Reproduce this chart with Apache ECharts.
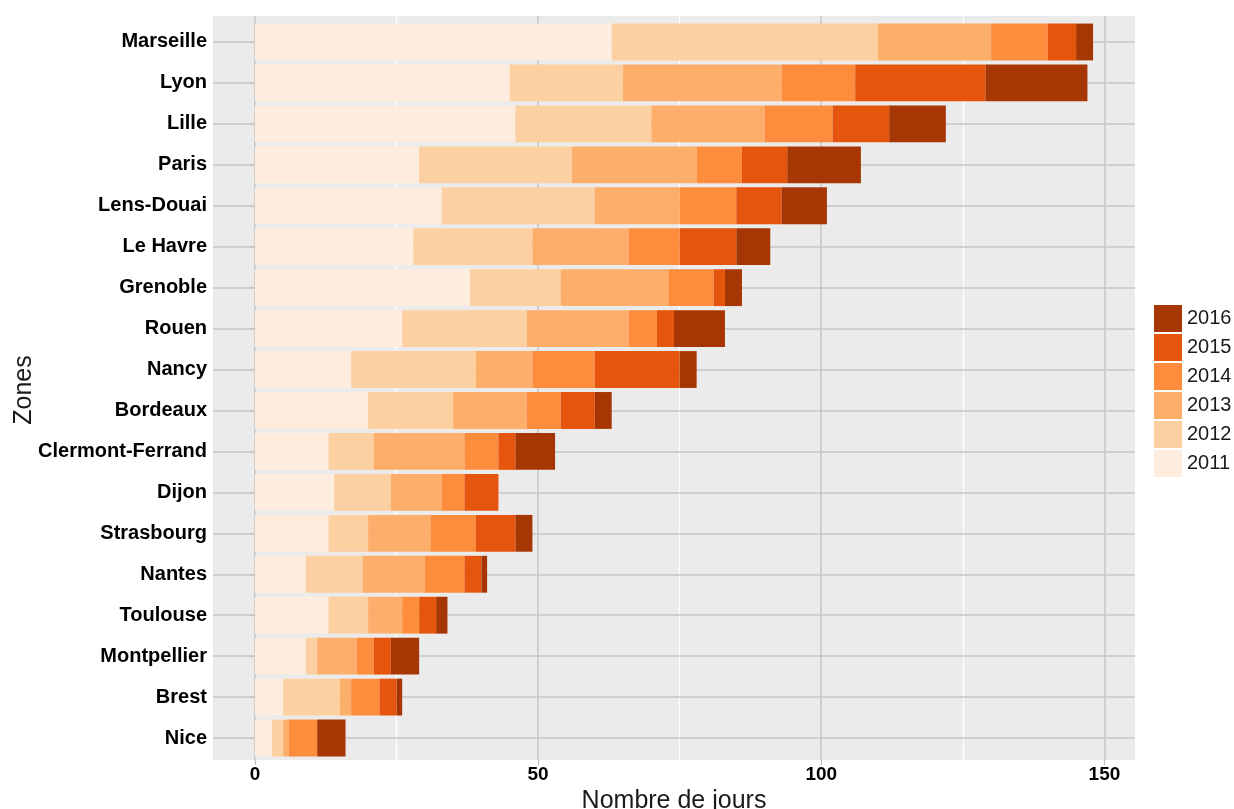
<!DOCTYPE html>
<html>
<head>
<meta charset="utf-8">
<script src="https://cdn.jsdelivr.net/npm/echarts@6/dist/echarts.min.js"></script>
<style>
html,body{margin:0;padding:0;background:#fff;}
#chart{width:1234px;height:809px;}
</style>
</head>
<body>
<div id="chart"></div>
<script>
const categories = ['Marseille','Lyon','Lille','Paris','Lens-Douai','Le Havre','Grenoble','Rouen','Nancy','Bordeaux','Clermont-Ferrand','Dijon','Strasbourg','Nantes','Toulouse','Montpellier','Brest','Nice'];
const years = ['2011','2012','2013','2014','2015','2016'];
const y2011 = [63,45,46,29,33,28,38,26,17,20,13,14,13,9,13,9,5,3];
const y2012 = [47,20,24,27,27,21,16,22,22,15,8,10,7,10,7,2,10,2];
const y2013 = [20,28,20,22,15,17,19,18,10,13,16,9,11,11,6,7,2,1];
const y2014 = [10,13,12,8,10,9,8,5,11,6,6,4,8,7,3,3,5,5];
const y2015 = [5,23,10,8,8,10,2,3,15,6,3,6,7,3,3,3,3,0];
const y2016 = [3,18,10,13,8,6,3,9,3,3,7,0,3,1,2,5,1,5];
const majorTicks = [0,50,100,150];
const minorTicks = [25,75,125];

const colors = ['#feedde','#fdd0a2','#fdae6b','#fd8d3c','#e6550d','#a63603'];
const seriesData = [y2011,y2012,y2013,y2014,y2015,y2016];
const font = 'Liberation Sans, Arial, sans-serif';
const XMIN = -7.4, XMAX = 155.4;

const series = [{
  type: 'line',
  xAxisIndex: 0,
  yAxisIndex: 0,
  data: [],
  silent: true,
  markLine: {
    z: 1,
    silent: true,
    symbol: 'none',
    label: {show: false},
    animation: false,
    data: [
      ...minorTicks.map(v => ({xAxis: v, lineStyle: {color: '#ffffff', width: 1.3, type: 'solid'}})),
      ...majorTicks.map(v => ({xAxis: v, lineStyle: {color: '#c6c6c6', width: 1.5, type: 'solid'}}))
    ]
  }
}, {
  type: 'line',
  xAxisIndex: 1,
  yAxisIndex: 1,
  data: [],
  silent: true,
  markLine: {
    z: 1,
    silent: true,
    symbol: 'none',
    label: {show: false},
    animation: false,
    data: categories.map(c => ({yAxis: c, lineStyle: {color: '#c6c6c6', width: 1.5, type: 'solid'}}))
  }
}];
years.forEach((y, i) => {
  series.push({
    name: y,
    type: 'bar',
    stack: 'total',
    xAxisIndex: 1,
    yAxisIndex: 1,
    z: 3,
    barCategoryGap: '10%',
    itemStyle: {color: colors[i]},
    data: seriesData[i]
  });
});

const chart = echarts.init(document.getElementById('chart'));
chart.setOption({
  animation: false,
  textStyle: {fontFamily: font},
  grid: [
    {left: 213, right: 99, top: 16, bottom: 49, backgroundColor: '#ebebeb', show: true, borderWidth: 0, outerBoundsMode: 'none', containLabel: false},
    {left: 213, right: 99, top: 21.5, bottom: 50.5, show: false, outerBoundsMode: 'none', containLabel: false}
  ],
  legend: {
    orient: 'vertical',
    left: 1154,
    top: 305,
    padding: 0,
    itemWidth: 28,
    itemHeight: 27,
    itemGap: 2,
    icon: 'rect',
    data: years.slice().reverse(),
    textStyle: {fontSize: 20, color: '#1a1a1a', fontFamily: font},
    selectedMode: false
  },
  xAxis: [{
    gridIndex: 0,
    type: 'value',
    min: XMIN,
    max: XMAX,
    name: 'Nombre de jours',
    nameLocation: 'middle',
    nameGap: 29,
    nameMoveOverlap: false,
    nameTextStyle: {fontSize: 25, color: '#1a1a1a', fontFamily: font},
    axisLine: {show: false},
    axisTick: {show: true, customValues: majorTicks, length: 5, lineStyle: {color: '#bdbdbd', width: 1.2}},
    axisLabel: {customValues: majorTicks, fontSize: 19, fontWeight: 'bold', color: '#000', margin: 5, fontFamily: font},
    splitLine: {show: false}
  }, {
    gridIndex: 1,
    type: 'value',
    min: XMIN,
    max: XMAX,
    show: false,
    splitLine: {show: false}
  }],
  yAxis: [{
    gridIndex: 0,
    type: 'value',
    min: 0,
    max: 1,
    show: false,
    splitLine: {show: false}
  }, {
    gridIndex: 1,
    type: 'category',
    inverse: true,
    data: categories,
    name: 'Zones',
    nameLocation: 'middle',
    nameRotate: 90,
    nameGap: 176,
    nameMoveOverlap: false,
    nameTextStyle: {fontSize: 25, color: '#1a1a1a', fontFamily: font},
    axisLine: {show: false},
    axisTick: {show: true, alignWithLabel: true, length: 5, lineStyle: {color: '#bdbdbd', width: 1.2}},
    axisLabel: {fontSize: 20, fontWeight: 'bold', color: '#000', margin: 6, fontFamily: font},
    splitLine: {show: false}
  }],
  series: series
});
</script>
</body>
</html>
